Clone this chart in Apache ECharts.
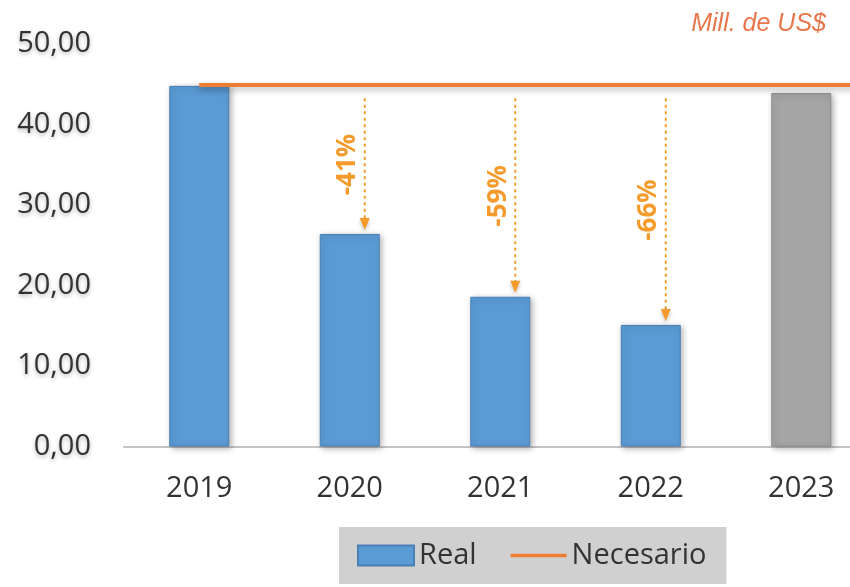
<!DOCTYPE html>
<html lang="es">
<head>
<meta charset="utf-8" />
<title>Real vs Necesario</title>
<style>
  html, body { margin: 0; padding: 0; background: #fff; }
  #chart { width: 850px; height: 587px; }
</style>
</head>
<body>
<div id="chart"></div>
<script src="https://cdn.jsdelivr.net/npm/echarts@6/dist/echarts.min.js"></script>
<script>
// datos
var years = ['2019', '2020', '2021', '2022', '2023'];
var real = [44.8, 26.4, 18.6, 15.1, 43.9];
var necesario = [44.9, 44.9, 44.9, 44.9, 44.9];
var dropIdx = [1, 2, 3];
var dropLabels = ['-41%', '-59%', '-66%'];

var FONT = '"Open Sans", "Noto Sans", sans-serif';
var ARROW = '#F59B2C';

var chart = echarts.init(document.getElementById('chart'));

// bars: 2023 in gray
var barData = real.map(function (v, i) {
  var last = i === years.length - 1;
  return {
    value: v,
    itemStyle: last ? { color: '#A5A5A5', borderColor: '#8C8C8C' } : {}
  };
});

// line points on hidden value axis (extended to the right edge)
var lineData = necesario.map(function (v, i) { return [i, v]; });
lineData.push([years.length - 0.5, necesario[necesario.length - 1]]);

var arrowData = dropIdx.map(function (idx, k) {
  return [idx, necesario[idx], real[idx], k];
});

function renderArrow(params, api) {
  var idx = api.value(0);
  var top = api.coord([idx, api.value(1)]);
  var bot = api.coord([idx, api.value(2)]);
  var x = top[0] + 15;
  var y0 = top[1] + 14;
  var y1 = bot[1] - 4;
  var label = dropLabels[api.value(3)];
  return {
    type: 'group',
    children: [
      {
        type: 'line',
        shape: { x1: x, y1: y0, x2: x, y2: y1 - 10 },
        style: { stroke: ARROW, lineWidth: 2, lineDash: [1.5, 5], lineCap: 'round' }
      },
      {
        type: 'polygon',
        shape: { points: [[x - 5, y1 - 12], [x + 5, y1 - 12], [x, y1]] },
        style: { fill: ARROW, shadowBlur: 4, shadowColor: 'rgba(0,0,0,0.25)', shadowOffsetY: 2 }
      },
      {
        type: 'text',
        x: x - 17,
        y: (y0 + y1) / 2,
        rotation: Math.PI / 2,
        style: {
          text: label,
          x: 0, y: 0,
          fill: ARROW,
          font: 'bold 26px ' + FONT,
          align: 'center',
          verticalAlign: 'middle'
        }
      }
    ]
  };
}

var option = {
  backgroundColor: '#fff',
  animation: false,
  title: {
    text: 'Mill. de US$',
    right: 19,
    top: 7,
    textStyle: {
      fontFamily: '"Liberation Sans", Arial, sans-serif',
      fontStyle: 'italic',
      fontWeight: 'normal',
      fontSize: 25,
      color: '#E8764A'
    }
  },
  legend: {
    left: 339,
    top: 527,
    backgroundColor: '#D0D0D0',
    padding: [14, 20, 14, 18],
    itemGap: 34,
    itemWidth: 56,
    itemHeight: 20,
    textStyle: { fontFamily: FONT, fontSize: 29, color: '#333', padding: [0, 0, 0, 0] },
    data: [
      { name: 'Real', icon: 'rect' },
      { name: 'Necesario', icon: 'path://M0,0H15V1H0Z' }
    ]
  },
  grid: { left: 124, width: 752.5, top: 44, bottom: 140.5, outerBoundsMode: 'none', containLabel: false },
  xAxis: [
    {
      type: 'category',
      data: years,
      axisLine: { lineStyle: { color: '#C4C4C4', width: 2 } },
      axisTick: { show: false },
      axisLabel: { fontFamily: FONT, fontSize: 29, color: '#333', margin: 28 }
    },
    {
      type: 'value',
      min: -0.5,
      max: years.length - 0.5,
      show: false
    }
  ],
  yAxis: {
    type: 'value',
    min: 0,
    max: 50,
    interval: 10,
    axisLine: { show: false },
    axisTick: { show: false },
    splitLine: { show: false },
    axisLabel: {
      fontFamily: FONT,
      fontSize: 29,
      color: '#333',
      margin: 33,
      textShadowColor: 'rgba(0,0,0,0.3)',
      textShadowBlur: 4,
      textShadowOffsetY: 2,
      formatter: function (v) { return v.toFixed(2).replace('.', ','); }
    }
  },
  series: [
    {
      name: 'Real',
      type: 'bar',
      data: barData,
      barWidth: 60,
      itemStyle: {
        color: '#5B9BD5',
        borderColor: '#4A7FB5',
        borderWidth: 1,
        shadowBlur: 6,
        shadowColor: 'rgba(0,0,0,0.3)',
        shadowOffsetX: 2,
        shadowOffsetY: 2
      },
      z: 2
    },
    {
      name: 'Necesario',
      type: 'line',
      xAxisIndex: 1,
      data: lineData,
      symbol: 'none',
      color: '#ED7D31',
      lineStyle: {
        color: '#ED7D31',
        width: 4,
        shadowBlur: 6,
        shadowColor: 'rgba(0,0,0,0.3)',
        shadowOffsetY: 3
      },
      z: 3
    },
    {
      type: 'custom',
      renderItem: renderArrow,
      data: arrowData,
      silent: true,
      z: 4
    }
  ]
};

chart.setOption(option);
</script>
</body>
</html>
